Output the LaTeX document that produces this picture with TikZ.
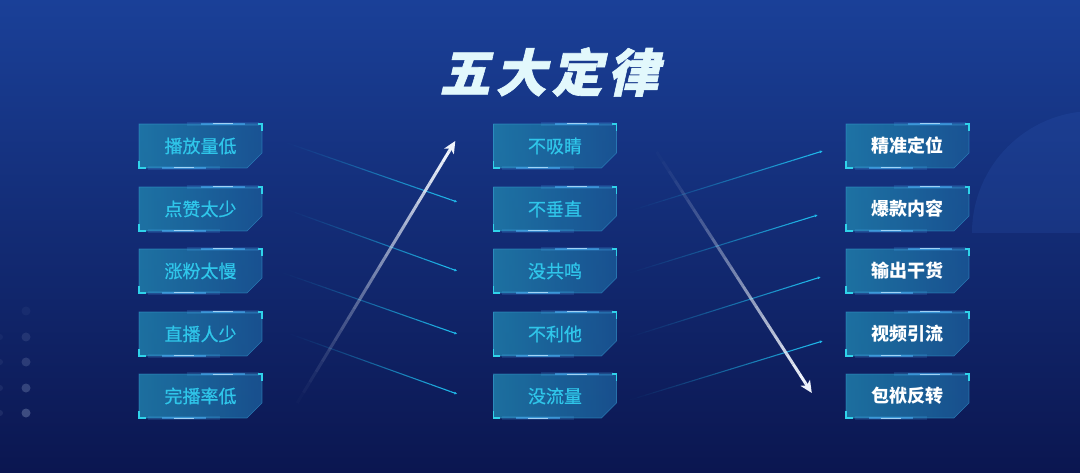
\documentclass[tikz,border=0pt]{standalone}
\usepackage{fontspec}
\usetikzlibrary{calc,arrows.meta}
\newfontfamily\cjk{Noto Sans CJK SC}
\newfontfamily\cjkm[FakeBold=0.6]{Noto Sans CJK SC}
\newfontfamily\titlefont[FakeSlant=0.22,FakeBold=1.2]{Noto Sans CJK SC}
\definecolor{bgtop}{HTML}{1A4098}
\definecolor{bgmid}{HTML}{152F80}
\definecolor{bgbot}{HTML}{0B1650}
\definecolor{boxA}{HTML}{1F7EAB}
\definecolor{boxB}{HTML}{1A5896}
\definecolor{edgec}{HTML}{3AA6DA}
\definecolor{cornc}{HTML}{2FD3EA}
\definecolor{glowc}{HTML}{4FB8FF}
\definecolor{cyantext}{HTML}{2FC6EA}
\definecolor{linec}{HTML}{1FB6E8}
\definecolor{arrowc}{HTML}{EEF3FB}
\definecolor{titlec}{HTML}{E2F8FC}
\definecolor{circc}{HTML}{2F5CBA}
\definecolor{dotc}{HTML}{8090B8}
\tikzset{
  boxnode/.style={minimum width=123pt,minimum height=44pt,inner sep=0pt,font=\cjkm\fontsize{18}{18}\selectfont},
  cytext/.style={boxnode,text=cyantext},
  whtext/.style={boxnode,text=white,font=\cjk\bfseries\fontsize{18}{18}\selectfont},
  boxedge/.style={draw=edgec,line width=0.6pt,opacity=0.5},
  corner/.style={draw=cornc,line width=1.6pt,line cap=butt},
  thinline/.style={draw=linec,line width=1.1pt},
  bigline/.style={draw=arrowc,line width=3pt},
}
\newcommand\gbox[5]{%
  \begin{scope}[shift={(#2,#3)}]
    \shade[left color=boxA,right color=boxB,opacity=0.85]
      (-61.5,-22) -- (61.5,-22) -- (61.5,7) -- (46.5,22) -- (-61.5,22) -- cycle;
    \path[boxedge] (-61.5,-22) -- (61.5,-22) -- (61.5,7) -- (46.5,22) -- (-61.5,22) -- cycle;
    \draw[corner] (57,-22) -- (61.5,-22) -- (61.5,-15);
    \draw[corner] (-61.5,15) -- (-61.5,22) -- (-55,22);
    \draw[glowc,line width=4pt,opacity=0.15] (-14,-22) -- (58,-22);
    \draw[glowc,line width=1.4pt,opacity=0.5] (0,-22) -- (44,-22);
    \draw[glowc!40!white,line width=1pt,opacity=0.8] (12,-22) -- (32,-22);
    \draw[glowc,line width=4pt,opacity=0.15] (-53,22) -- (19,22);
    \draw[glowc,line width=1.4pt,opacity=0.5] (-39,22) -- (5,22);
    \draw[glowc!40!white,line width=1pt,opacity=0.8] (-27,22) -- (-7,22);
  \end{scope}
  \node[#5] (#1) at (#2,#3) {#4};
}
% fading connector: from #1 to #2, style #3, arrow tip #4
\newcommand\fadeconn[4]{%
  \foreach \i in {1,...,24}{%
    \pgfmathsetmacro\op{(\i/24)^1.3}%
    \draw[#3,opacity=\op] ($(#1)!{(\i-1)/25}!(#2)$) -- ($(#1)!{\i/25}!(#2)$);
  }%
  \draw[#3,#4] ($(#1)!{24/25}!(#2)$) -- (#2);
}
\begin{document}
\begin{tikzpicture}[x=1pt,y=-1pt]
\useasboundingbox (0,0) rectangle (1080,473);
\shade[top color=bgtop,middle color=bgmid,bottom color=bgbot] (0,0) rectangle (1080,473);
% half disc at right
\begin{scope}
  \clip (0,0) rectangle (1080,233);
  \fill[circc,opacity=0.2] (1094,233) circle (122);
\end{scope}
% dots at left
\fill[dotc,opacity=0.08] (26,311) circle (4.5);
\fill[dotc,opacity=0.18] (26,337) circle (4.5);
\fill[dotc,opacity=0.26] (26,362) circle (4.5);
\fill[dotc,opacity=0.34] (26,388) circle (4.5);
\fill[dotc,opacity=0.42] (26,413) circle (4.5);
\fill[dotc,opacity=0.08] (0,337) circle (3);
\fill[dotc,opacity=0.1] (0,362) circle (3);
\fill[dotc,opacity=0.12] (0,388) circle (3);
\fill[dotc,opacity=0.14] (0,413) circle (3);
% title
\node[text=titlec,font=\titlefont\bfseries\fontsize{51}{51}\selectfont] (title) at (549,72)
  {五\hspace{5pt}大\hspace{5pt}定\hspace{5pt}律};
% boxes
\gbox{L1}{200.5}{146}{播放量低}{cytext}
\gbox{L2}{200.5}{209}{点赞太少}{cytext}
\gbox{L3}{200.5}{271}{涨粉太慢}{cytext}
\gbox{L4}{200.5}{334}{直播人少}{cytext}
\gbox{L5}{200.5}{396}{完播率低}{cytext}
\gbox{M1}{555}{146}{不吸睛}{cytext}
\gbox{M2}{555}{209}{不垂直}{cytext}
\gbox{M3}{555}{271}{没共鸣}{cytext}
\gbox{M4}{555}{334}{不利他}{cytext}
\gbox{M5}{555}{396}{没流量}{cytext}
\gbox{R1}{907.5}{146}{精准定位}{whtext}
\gbox{R2}{907.5}{209}{爆款内容}{whtext}
\gbox{R3}{907.5}{271}{输出干货}{whtext}
\gbox{R4}{907.5}{334}{视频引流}{whtext}
\gbox{R5}{907.5}{396}{包袱反转}{whtext}
% connector end points
\coordinate (a1s) at ([xshift=25pt,yshift=3pt]L1.east);
\coordinate (a1e) at ([xshift=-36pt,yshift=7pt]M2.west);
\coordinate (a2s) at ([xshift=26pt,yshift=-1pt]L2.east);
\coordinate (a2e) at ([xshift=-36pt]M3.west);
\coordinate (a3s) at ([xshift=21pt,yshift=-2pt]L3.east);
\coordinate (a3e) at ([xshift=-36pt]M4.west);
\coordinate (a4s) at ([xshift=28pt]L4.east);
\coordinate (a4e) at ([xshift=-36pt,yshift=2pt]M5.west);
\coordinate (b1s) at ([xshift=16pt,yshift=-1pt]M2.east);
\coordinate (b1e) at ([xshift=-23pt,yshift=-5pt]R1.west);
\coordinate (b2s) at ([xshift=13pt,yshift=-2pt]M3.east);
\coordinate (b2e) at ([xshift=-28pt,yshift=-6pt]R2.west);
\coordinate (b3s) at ([xshift=13pt,yshift=-3pt]M4.east);
\coordinate (b3e) at ([xshift=-25pt,yshift=-6pt]R3.west);
\coordinate (b4s) at ([xshift=13pt,yshift=-4pt]M5.east);
\coordinate (b4e) at ([xshift=-23pt,yshift=-7pt]R4.west);
\coordinate (c1s) at ([xshift=35pt,yshift=-7pt]L5.east);
\coordinate (c1e) at ([xshift=-38pt,yshift=5pt]M1.west);
\coordinate (c2s) at ([xshift=40pt,yshift=-6pt]M1.east);
\coordinate (c2e) at ([xshift=-34pt,yshift=3pt]R5.west);
% thin connectors
\fadeconn{a1s}{a1e}{thinline}{-{Latex[length=3pt,width=3pt]}}
\fadeconn{a2s}{a2e}{thinline}{-{Latex[length=3pt,width=3pt]}}
\fadeconn{a3s}{a3e}{thinline}{-{Latex[length=3pt,width=3pt]}}
\fadeconn{a4s}{a4e}{thinline}{-{Latex[length=3pt,width=3pt]}}
\fadeconn{b1s}{b1e}{thinline}{-{Latex[length=3pt,width=3pt]}}
\fadeconn{b2s}{b2e}{thinline}{-{Latex[length=3pt,width=3pt]}}
\fadeconn{b3s}{b3e}{thinline}{-{Latex[length=3pt,width=3pt]}}
\fadeconn{b4s}{b4e}{thinline}{-{Latex[length=3pt,width=3pt]}}
% big arrows
\fadeconn{c1s}{c1e}{bigline}{-{Stealth[length=12pt,width=11pt,inset=3pt]}}
\fadeconn{c2s}{c2e}{bigline}{-{Stealth[length=12pt,width=11pt,inset=3pt]}}
\end{tikzpicture}
\end{document}
